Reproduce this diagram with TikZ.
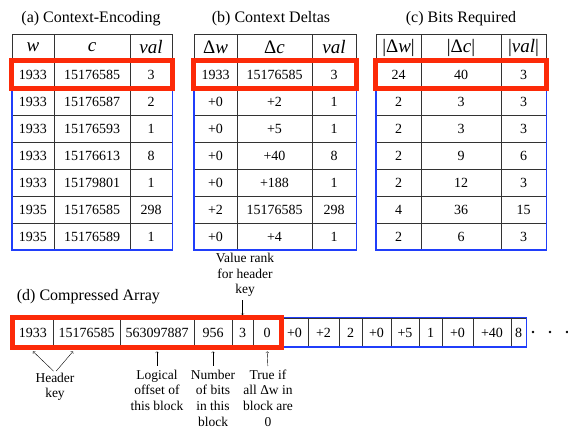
\documentclass[tikz,border=0pt]{standalone}
\usepackage{fontspec}
\setmainfont{Liberation Serif}
\usetikzlibrary{positioning}
\definecolor{boxred}{RGB}{252,42,8}
\definecolor{boxblue}{RGB}{32,62,250}

\begin{document}
\begin{tikzpicture}[x=1pt, y=-1pt,
		cell/.style={draw=black!80, line width=0.8pt, rectangle, inner sep=0pt, minimum height=27pt, font=\fontsize{14}{16}\selectfont},
		head/.style={cell, font=\fontsize{19}{21}\selectfont},
		title/.style={inner sep=0pt, font=\fontsize{16}{18}\selectfont},
		note/.style={align=center, inner sep=0pt, anchor=north, font=\fontsize{13.5}{15.7}\selectfont},
		redbox/.style={draw=boxred, line width=4.5pt},
		bluebox/.style={draw=boxblue, line width=1.8pt}]
		\useasboundingbox (0,0) rectangle (568,430);
		
		% titles
		\node (ta) [title] at (91,19) {(a) Context-Encoding};
		\node (tb) [title] at (271,19) {(b) Context Deltas};
		\node (tc) [title] at (461,19) {(c) Bits Required};
		
		% (a) context-encoding
		\node (aw0) [head, minimum width=42pt] at (33,47.5) {\itshape w};
		\node (ac0) [head, minimum width=76pt] at (92,47.5) {\itshape c};
		\node (av0) [head, minimum width=42pt] at (151,47.5) {\itshape val};
		\foreach \w/\c/\v [count=\i] in {1933/15176585/3, 1933/15176587/2, 1933/15176593/1, 1933/15176613/8, 1933/15179801/1, 1935/15176585/298, 1935/15176589/1} {
			\node (aw\i) [cell, minimum width=42pt] at (33,47.5+27*\i) {\w};
			\node (ac\i) [cell, minimum width=76pt] at (92,47.5+27*\i) {\c};
			\node (av\i) [cell, minimum width=42pt] at (151,47.5+27*\i) {\v};
		}
		
		% (b) context deltas
		\node (bw0) [head, minimum width=43pt] at (215.5,47.5) {Δ\textit{w}};
		\node (bc0) [head, minimum width=75pt] at (274.5,47.5) {Δ\textit{c}};
		\node (bv0) [head, minimum width=44pt] at (334,47.5) {\itshape val};
		\foreach \w/\c/\v [count=\i] in {1933/15176585/3, +0/+2/1, +0/+5/1, +0/+40/8, +0/+188/1, +2/15176585/298, +0/+4/1} {
			\node (bw\i) [cell, minimum width=43pt] at (215.5,47.5+27*\i) {\w};
			\node (bc\i) [cell, minimum width=75pt] at (274.5,47.5+27*\i) {\c};
			\node (bv\i) [cell, minimum width=44pt] at (334,47.5+27*\i) {\v};
		}
		
		% (c) bits required
		\node (cw0) [head, minimum width=45pt] at (398.5,47.5) {|Δ\textit{w}|};
		\node (cc0) [head, minimum width=80pt] at (461,47.5) {|Δ\textit{c}|};
		\node (cv0) [head, minimum width=45pt] at (523.5,47.5) {|\textit{val}|};
		\foreach \w/\c/\v [count=\i] in {24/40/3, 2/3/3, 2/3/3, 2/9/6, 2/12/3, 4/36/15, 2/6/3} {
			\node (cw\i) [cell, minimum width=45pt] at (398.5,47.5+27*\i) {\w};
			\node (cc\i) [cell, minimum width=80pt] at (461,47.5+27*\i) {\c};
			\node (cv\i) [cell, minimum width=45pt] at (523.5,47.5+27*\i) {\v};
		}
		
		\draw[bluebox] (aw2.north west) rectangle (av7.south east);
		\draw[bluebox] (bw2.north west) rectangle (bv7.south east);
		\draw[bluebox] (cw2.north west) rectangle (cv7.south east);
		\draw[redbox] (aw1.north west) rectangle (av1.south east);
		\draw[redbox] (bw1.north west) rectangle (bv1.south east);
		\draw[redbox] (cw1.north west) rectangle (cv1.south east);
		
		% (d) compressed array
		\node (td) [title, anchor=west] at (16.7,297) {(d) Compressed Array};
		\foreach \l/\r/\t [count=\i] in {13/53/1933, 53/120/15176585, 120/194/563097887, 194/232/956, 232/253/3, 253/281/0} {
			\node (d\i) [cell, minimum height=29pt, minimum width={(\r-\l)*1pt}] at ({(\l+\r)/2},332.5) {\t};
		}
		\foreach \l/\r/\t [count=\i] in {281/308/+0, 308/339/+2, 339/362/2, 362/391/+0, 391/419/+5, 419/442/1, 442/473/+0, 473/511/+40, 511/526/8} {
			\node (e\i) [cell, minimum height=29pt, minimum width={(\r-\l)*1pt}] at ({(\l+\r)/2},332.5) {\t};
		}
		\draw[bluebox] (e1.north west) rectangle (e9.south east);
		\draw[redbox] (d1.north west) rectangle (d6.south east);
		\foreach \x in {533,550,567} \fill (\x,332) circle (1.4pt);
		
		% notes
		\node (vr) [note] at (245,253) {Value rank\\for header\\key};
		\node (hk) [note] at (55,372.5) {Header\\key};
		\node (lo) [note] at (157,369.5) {Logical\\offset of\\this block};
		\node (nb) [note] at (213,369.5) {Number\\of bits\\in this\\block};
		\node (tr) [note] at (268,369.5) {True if\\all Δw in\\block are\\0};
		
		\draw[->, shorten >=2.5pt, shorten <=3pt] (d5 |- vr.south) -- (d5.north);
		\draw[->, shorten <=2pt] (hk.north) -- ([yshift=-4pt]d1.south);
		\draw[->, shorten <=2pt] (hk.north) -- ([xshift=-13.5pt, yshift=-4pt]d2.south);
		\draw[->, shorten >=4pt, shorten <=3.5pt] (lo.north) -- (d3.south);
		\draw[->, shorten >=4pt, shorten <=3.5pt] (nb.north) -- (d4.south);
		\draw[->, shorten >=4pt, shorten <=3.5pt] (tr.north) -- (d6.south);
	\end{tikzpicture}
\end{document}
